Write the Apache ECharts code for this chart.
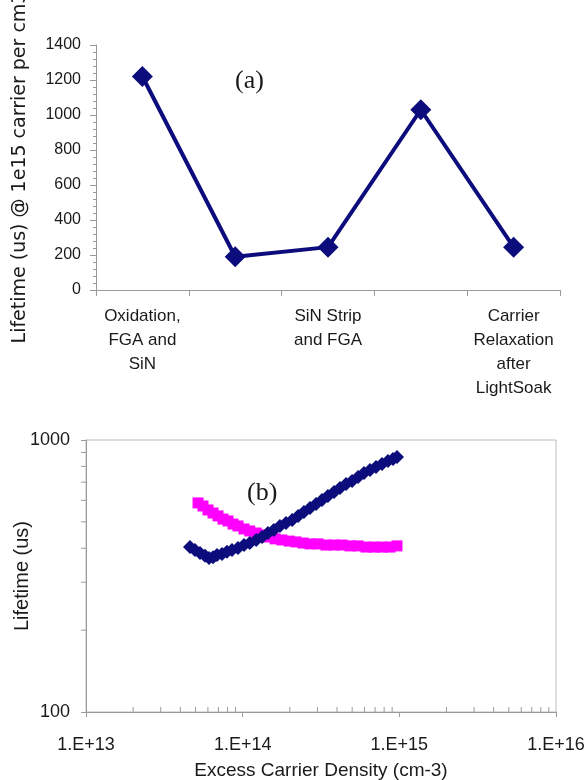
<!DOCTYPE html>
<html>
<head>
<meta charset="utf-8">
<script src="https://cdn.jsdelivr.net/npm/echarts@6/dist/echarts.min.js"></script>
<style>
  html, body { margin: 0; padding: 0; background: #fff; }
  #chart { width: 587px; height: 780px; }
</style>
</head>
<body>
<div id="chart"></div>
<script>
// (a) lifetime at 1e15 carriers per process step
const steps = ['Oxidation,\nFGA and\nSiN', '', 'SiN Strip\nand FGA', ' ', 'Carrier\nRelaxation\nafter\nLightSoak'];
const lifetimeA = [1220, 190, 245, 1030, 245];

// (b) lifetime vs excess carrier density
const densityBlue = [4.61e13, 4.96e13, 5.34e13, 5.75e13, 6.10e13, 6.47e13, 6.86e13, 7.38e13, 7.94e13, 8.55e13,
  9.34e13, 1.02e14, 1.11e14, 1.22e14, 1.33e14, 1.45e14, 1.58e14, 1.73e14, 1.89e14, 2.07e14,
  2.26e14, 2.46e14, 2.69e14, 2.94e14, 3.21e14, 3.50e14, 3.83e14, 4.18e14, 4.57e14, 4.99e14,
  5.45e14, 5.95e14, 6.50e14, 7.10e14, 7.75e14, 8.46e14, 9.11e14, 9.66e14];
const lifetimeBlue = [404, 394, 384, 375, 368, 371, 378, 381, 388, 394,
  401, 411, 418, 429, 440, 455, 467, 483, 495, 508,
  526, 544, 562, 582, 602, 622, 644, 666, 689, 707,
  731, 756, 776, 796, 816, 837, 851, 866];

const densityPink = [5.19e13, 5.58e13, 6.01e13, 6.47e13, 6.96e13, 7.49e13, 8.06e13, 8.68e13, 9.34e13, 1.02e14,
  1.11e14, 1.22e14, 1.33e14, 1.45e14, 1.61e14, 1.78e14, 1.98e14, 2.19e14, 2.43e14, 2.69e14,
  3.03e14, 3.40e14, 3.83e14, 4.31e14, 4.84e14, 5.45e14, 6.13e14, 6.89e14, 7.75e14, 8.72e14, 9.66e14];
const lifetimePink = [587, 572, 553, 539, 526, 512, 504, 491, 483, 471,
  463, 455, 448, 440, 433, 429, 425, 422, 418, 415,
  415, 411, 411, 411, 408, 408, 404, 404, 404, 404, 408];

const navy = '#0c0c7c';
const pink = '#ff00ff';
const axisGray = '#9a9a9a';
const textColor = '#1a1a1a';
const sans = 'Liberation Sans, Arial, sans-serif';

// log-decade minor ticks for chart (b)
const minorX = [];
[13, 14, 15].forEach(d => { for (let k = 2; k <= 9; k++) minorX.push([k * Math.pow(10, d), 100]); });
const minorY = [];
for (let k = 2; k <= 9; k++) minorY.push([1e13, k * 100]);

const chart = echarts.init(document.getElementById('chart'), null, { renderer: 'canvas' });

const tickSeries = (data, dir) => ({
  type: 'custom',
  xAxisIndex: 1,
  yAxisIndex: 1,
  silent: true,
  clip: false,
  z: 1,
  data: data,
  renderItem: (params, api) => {
    const p = api.coord([api.value(0), api.value(1)]);
    const shape = dir === 'x'
      ? { x1: p[0], y1: p[1], x2: p[0], y2: p[1] - 5 }
      : { x1: p[0] - 5, y1: p[1], x2: p[0], y2: p[1] };
    return { type: 'line', shape: shape, style: { stroke: axisGray, lineWidth: 1 } };
  }
});

const plain = v => String(v);

const option = {
  backgroundColor: '#fff',
  animation: false,
  grid: [
    { left: 96, right: 27, top: 45, height: 245, outerBoundsMode: 'none' },
    { left: 86, right: 31, top: 440, height: 272, outerBoundsMode: 'none', show: true, borderColor: '#bdbdbd', borderWidth: 1 }
  ],
  xAxis: [
    {
      type: 'category',
      gridIndex: 0,
      data: steps,
      boundaryGap: true,
      axisLine: { lineStyle: { color: axisGray } },
      axisTick: { show: true, interval: 0, length: 6, lineStyle: { color: axisGray } },
      axisLabel: {
        interval: 0, margin: 14, color: textColor, fontSize: 17, lineHeight: 24,
        fontFamily: sans, align: 'center'
      },
      splitLine: { show: false }
    },
    {
      type: 'log',
      gridIndex: 1,
      logBase: 10,
      min: 1e13,
      max: 1e16,
      name: 'Excess Carrier Density (cm-3)',
      nameLocation: 'middle',
      nameGap: 49,
      nameMoveOverlap: false,
      nameTextStyle: { color: textColor, fontSize: 19, fontFamily: sans },
      axisLine: { lineStyle: { color: axisGray } },
      axisTick: { length: 5, lineStyle: { color: axisGray } },
      axisLabel: {
        margin: 24, color: textColor, fontSize: 18, fontFamily: sans,
        formatter: v => '1.E+' + Math.round(Math.log10(v))
      },
      splitLine: { show: false }
    }
  ],
  yAxis: [
    {
      type: 'value',
      gridIndex: 0,
      min: 0,
      max: 1400,
      interval: 200,
      name: 'Lifetime (us) @ 1e15 carrier per cm3',
      nameLocation: 'middle',
      nameGap: 66,
      nameMoveOverlap: false,
      nameTextStyle: { color: textColor, fontSize: 19, fontFamily: 'DejaVu Sans, sans-serif' },
      axisLine: { show: true, lineStyle: { color: axisGray } },
      axisTick: { show: true, length: 6, lineStyle: { color: axisGray } },
      minorTick: { show: true, splitNumber: 5, length: 3, lineStyle: { color: axisGray } },
      axisLabel: { margin: 15, color: textColor, fontSize: 16, fontFamily: sans, formatter: plain },
      splitLine: { show: false }
    },
    {
      type: 'log',
      gridIndex: 1,
      logBase: 10,
      min: 100,
      max: 1000,
      name: 'Lifetime (us)',
      nameLocation: 'middle',
      nameGap: 54,
      nameMoveOverlap: false,
      nameTextStyle: { color: textColor, fontSize: 20, fontFamily: sans },
      axisLine: { show: true, lineStyle: { color: axisGray } },
      axisTick: { show: true, length: 5, lineStyle: { color: axisGray } },
      axisLabel: { margin: 16, color: textColor, fontSize: 18, fontFamily: sans, formatter: plain },
      splitLine: { show: false }
    }
  ],
  graphic: [
    { type: 'text', left: 235, top: 68, style: { text: '(a)', font: '26px "Liberation Serif", "Times New Roman", serif', fill: textColor } },
    { type: 'text', left: 247, top: 480, style: { text: '(b)', font: '26px "Liberation Serif", "Times New Roman", serif', fill: textColor } }
  ],
  series: [
    {
      type: 'line',
      xAxisIndex: 0,
      yAxisIndex: 0,
      data: lifetimeA,
      symbol: 'diamond',
      symbolSize: 21,
      lineStyle: { color: navy, width: 4 },
      itemStyle: { color: navy }
    },
    {
      type: 'scatter',
      xAxisIndex: 1,
      yAxisIndex: 1,
      data: densityPink.map((d, i) => [d, lifetimePink[i]]),
      symbol: 'rect',
      symbolSize: 11,
      itemStyle: { color: pink, opacity: 1 }
    },
    {
      type: 'scatter',
      xAxisIndex: 1,
      yAxisIndex: 1,
      data: densityBlue.map((d, i) => [d, lifetimeBlue[i]]),
      symbol: 'diamond',
      symbolSize: 14,
      itemStyle: { color: navy, opacity: 1 },
      z: 3
    },
    tickSeries(minorX, 'x'),
    tickSeries(minorY, 'y')
  ]
};

chart.setOption(option);
</script>
</body>
</html>
